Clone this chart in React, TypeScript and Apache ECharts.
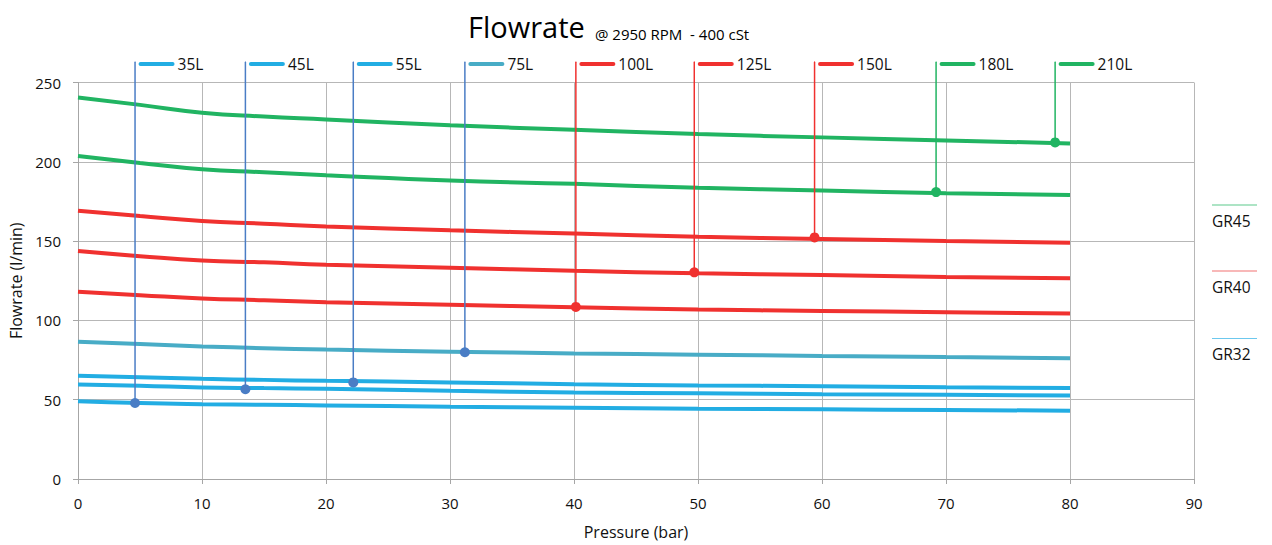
import React, { useEffect, useRef } from "react";
import * as echarts from "echarts";

// Pressure points (bar) at which the curves were read
const pressures = [0, 5, 10, 15, 20, 30, 40, 50, 60, 70, 80];

// Flowrate curves (l/min)
const flow210 = [240.5, 235.9, 231.0, 228.5, 226.7, 223.0, 220.2, 217.5, 215.4, 213.5, 211.6];
const flow180 = [203.7, 199.3, 195.3, 193.4, 191.5, 188.2, 186.1, 183.6, 181.9, 180.2, 179.0];
const flow150 = [169.2, 165.8, 162.7, 161.0, 159.2, 156.8, 154.8, 152.7, 151.4, 150.1, 148.9];
const flow125 = [143.7, 140.5, 137.8, 136.6, 135.1, 133.2, 131.3, 129.7, 128.6, 127.4, 126.5];
const flow100 = [118.1, 115.9, 113.8, 112.7, 111.5, 109.8, 108.3, 106.8, 106.0, 105.2, 104.3];
const flow75 = [86.6, 85.1, 83.6, 82.5, 81.6, 80.3, 79.2, 78.4, 77.6, 77.0, 76.1];
const flow55 = [65.1, 64.2, 63.2, 62.5, 61.9, 60.9, 59.8, 59.0, 58.5, 57.9, 57.3];
const flow45 = [59.6, 58.8, 57.7, 57.3, 56.9, 55.6, 54.6, 54.0, 53.5, 53.1, 52.7];
const flow35 = [49.1, 47.9, 47.2, 46.8, 46.4, 45.6, 44.9, 44.3, 43.9, 43.5, 43.1];

// Model names, their group, and the operating marker on each curve
const models = ["35L", "45L", "55L", "75L", "100L", "125L", "150L", "180L", "210L"];
const modelGroups = ["GR32", "GR32", "GR32", "GR32", "GR40", "GR40", "GR40", "GR45", "GR45"];
const markerPressure = [4.6, 13.5, 22.2, 31.2, 40.15, 49.7, 59.4, 69.2, 78.8];
const markerFlow = [47.9, 56.6, 60.9, 79.9, 108.5, 130.3, 152.3, 180.9, 212.2];
const curves = [flow35, flow45, flow55, flow75, flow100, flow125, flow150, flow180, flow210];

// Right-hand group legend
const groupNames = ["GR45", "GR40", "GR32"];

// Axis ticks
const xTicks = { min: 0, max: 90, interval: 10 };
const yTicks = { min: 0, max: 250, interval: 50 };
const LABEL_ROW = 263; // level of the model label row above the plot

const FONT = "'Open Sans', 'Noto Sans', sans-serif";
const GREEN = "#21b462";
const RED = "#f0312f";
const BLUE = "#22ade3";
const TEAL = "#48acc6";
const DROP_BLUE = "#4a7dc5";

const curveColor = (i: number) =>
  i === 3 ? TEAL : modelGroups[i] === "GR32" ? BLUE : modelGroups[i] === "GR40" ? RED : GREEN;
const dropColor = (i: number) =>
  modelGroups[i] === "GR32" ? DROP_BLUE : modelGroups[i] === "GR40" ? RED : GREEN;
const groupColor: Record<string, string> = { GR45: "#5cc98c", GR40: "#f27373", GR32: "#6cc8ee" };

export default function App() {
  const ref = useRef<HTMLDivElement>(null);

  useEffect(() => {
    if (!ref.current) return;
    const chart = echarts.init(ref.current, undefined, { renderer: "svg" });

    const series: any[] = [];
    curves.forEach((c, i) => {
      series.push({
        name: models[i],
        type: "line",
        smooth: true,
        showSymbol: false,
        symbol: "none",
        data: pressures.map((p, k) => [p, c[k]]),
        lineStyle: { color: curveColor(i), width: 4 },
        z: 3,
      });
    });
    models.forEach((m, i) => {
      series.push({
        name: m + " marker",
        type: "line",
        clip: false,
        symbol: "circle",
        showSymbol: true,
        showAllSymbol: true,
        data: [
          { value: [markerPressure[i], markerFlow[i]], symbolSize: 10 },
          {
            value: [markerPressure[i], LABEL_ROW],
            symbolSize: 1,
            label: {
              show: true,
              position: "right",
              distance: 3,
              offset: [0, 2],
              formatter: "{s| }{g| }{t|" + m + "}",
              rich: {
                s: {
                  backgroundColor: curveColor(i),
                  width: 36,
                  height: 4,
                  borderRadius: 2,
                  fontSize: 1,
                  lineHeight: 4,
                },
                g: { width: 3, fontSize: 1 },
                t: { fontSize: 15.5, color: "#111", fontFamily: FONT },
              },
            },
          },
        ],
        lineStyle: { color: dropColor(i), width: 1.5 },
        itemStyle: { color: dropColor(i) },
        z: 4,
      });
    });

    const legendY = [205, 271, 338.5];
    const graphics: any[] = [];
    groupNames.forEach((g, i) => {
      graphics.push({
        type: "line",
        shape: { x1: 1212, y1: legendY[i], x2: 1257, y2: legendY[i] },
        style: { stroke: groupColor[g], lineWidth: 1.2 },
      });
      graphics.push({
        type: "text",
        x: 1212,
        y: legendY[i] + 15.5,
        style: {
          text: g,
          fontSize: 15.5,
          fontFamily: FONT,
          fill: "#111",
          verticalAlign: "middle",
        },
      });
    });

    chart.setOption({
      animation: false,
      backgroundColor: "#fff",
      title: [
        {
          text: "Flowrate",
          left: 463,
          top: 7,
          textStyle: { fontSize: 29, fontWeight: "normal", color: "#000", fontFamily: FONT },
        },
        {
          text: "@ 2950 RPM  - 400 cSt",
          left: 590,
          top: 21,
          textStyle: { fontSize: 15, fontWeight: "normal", color: "#000", fontFamily: FONT },
        },
      ],
      grid: { left: 78, right: 78, top: 82.5, bottom: 64 },
      xAxis: {
        type: "value",
        min: xTicks.min,
        max: xTicks.max,
        interval: xTicks.interval,
        name: "Pressure (bar)",
        nameLocation: "middle",
        nameGap: 45,
        nameTextStyle: { fontSize: 16, color: "#111", fontFamily: FONT },
        axisLine: { show: true, lineStyle: { color: "#a6a6a6", width: 1 } },
        axisTick: { show: true, length: 5, lineStyle: { color: "#a6a6a6" } },
        axisLabel: { fontSize: 15, color: "#111", margin: 16, fontFamily: FONT },
        splitLine: { show: true, lineStyle: { color: "#b7b7b7", width: 1 } },
      },
      yAxis: {
        type: "value",
        min: yTicks.min,
        max: yTicks.max,
        interval: yTicks.interval,
        name: "Flowrate (l/min)",
        nameLocation: "middle",
        nameGap: 52,
        nameTextStyle: { fontSize: 16, color: "#111", fontFamily: FONT },
        axisLine: { show: true, lineStyle: { color: "#a6a6a6", width: 1 } },
        axisTick: { show: true, length: 5, lineStyle: { color: "#a6a6a6" } },
        axisLabel: { fontSize: 15, color: "#111", margin: 17, fontFamily: FONT },
        splitLine: { show: true, lineStyle: { color: "#b7b7b7", width: 1 } },
      },
      graphic: graphics,
      series,
    });

    return () => chart.dispose();
  }, []);

  return (
    <div
      ref={ref}
      style={{ position: "fixed", left: 0, top: 0, width: 1272, height: 545, background: "#fff" }}
    />
  );
}
